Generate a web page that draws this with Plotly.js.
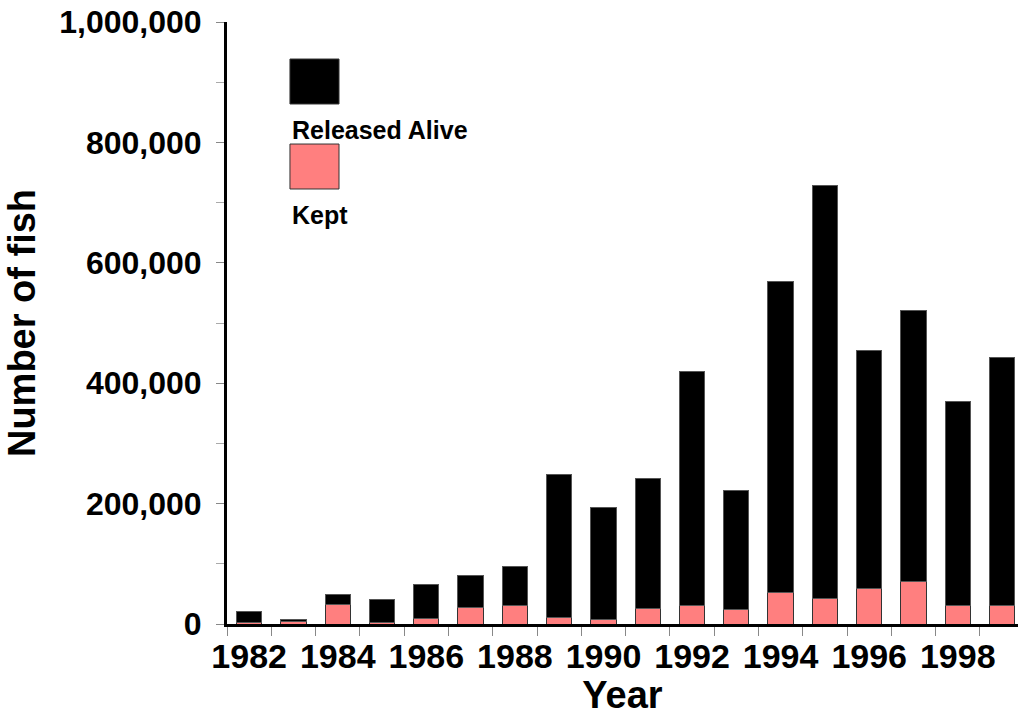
<!DOCTYPE html>
<html>
<head>
<meta charset="utf-8">
<script src="https://cdn.plot.ly/plotly-3.0.1.min.js"></script>
<style>
  html, body { margin: 0; padding: 0; background: #fff; }
  #chart { width: 1018px; height: 716px; }
</style>
</head>
<body>
<div id="chart"></div>
<script>
let years = [1982, 1983, 1984, 1985, 1986, 1987, 1988, 1989, 1990,
             1991, 1992, 1993, 1994, 1995, 1996, 1997, 1998, 1999];

let kept = [3300, 3500, 31600, 3300, 9500, 26600, 30400, 11600, 8300,
            25000, 30400, 24400, 52000, 43000, 59000, 70000, 30400, 31500];

let releasedAlive = [17000, 4500, 17700, 38200, 55800, 54800, 65900, 237000, 185500,
                     217000, 389300, 196600, 517200, 685000, 395600, 451000, 340000, 412000];

let labelYears = [1982, 1984, 1986, 1988, 1990, 1992, 1994, 1996, 1998];
let yTicks = [0, 200000, 400000, 600000, 800000, 1000000];

let boldFont = 'Liberation Sans, Arial, sans-serif';
let narrowFont = 'Liberation Sans Narrow, Liberation Sans, Arial, sans-serif';

let traces = [
  {
    x: years,
    y: kept,
    type: 'bar',
    name: 'Kept',
    width: 0.57,
    marker: { color: '#ff7f7f', line: { color: '#333333', width: 1 } }
  },
  {
    x: years,
    y: releasedAlive,
    type: 'bar',
    name: 'Released Alive',
    width: 0.57,
    marker: { color: '#000000', line: { color: '#555555', width: 1 } }
  }
];

// legend drawn by hand: swatch above its label, as in the original
function legendItem(color, y0, y1, label, ly) {
  return {
    shape: {
      type: 'rect', xref: 'paper', yref: 'paper',
      x0: 0.0796, x1: 0.1416, y0: y0, y1: y1,
      fillcolor: color, line: { color: '#333333', width: 1 }
    },
    note: {
      xref: 'paper', yref: 'paper', x: 0.0796, y: ly,
      xanchor: 'left', yanchor: 'middle', showarrow: false,
      text: label,
      font: { family: boldFont, size: 25, weight: 'bold', color: '#000' }
    }
  };
}

let lgA = legendItem('#000000', 0.8638, 0.9385, 'Released Alive', 0.8206);
let lgB = legendItem('#ff7f7f', 0.7226, 0.7973, 'Kept', 0.679);

let layout = {
  width: 1018,
  height: 716,
  barmode: 'stack',
  showlegend: false,
  paper_bgcolor: '#ffffff',
  plot_bgcolor: '#ffffff',
  margin: { l: 227, r: 0, t: 22, b: 92 },
  xaxis: {
    range: [1981.5, 1999.36],
    tickmode: 'array',
    tickvals: labelYears,
    ticktext: labelYears.map(String),
    ticks: '',
    showgrid: false,
    zeroline: false,
    showline: true,
    linecolor: '#000',
    linewidth: 3,
    tickfont: { family: narrowFont, size: 34, weight: 'bold', color: '#000' },
    minor: { tick0: 1981.5, dtick: 1, ticks: 'outside', ticklen: 9, tickcolor: '#888', tickwidth: 1, showgrid: false },
    title: { text: 'Year', standoff: 6, font: { family: narrowFont, size: 38, weight: 'bold', color: '#000' } }
  },
  yaxis: {
    range: [0, 1000000],
    tickmode: 'array',
    tickvals: yTicks,
    ticktext: yTicks.map(function(v) { return v.toLocaleString('en-US'); }),
    ticks: 'outside',
    ticklen: 8,
    tickcolor: '#888',
    tickwidth: 1,
    ticklabelstandoff: 8,
    showgrid: false,
    zeroline: false,
    showline: true,
    linecolor: '#000',
    linewidth: 3,
    tickfont: { family: boldFont, size: 32, weight: 'bold', color: '#000' },
    minor: { dtick: 100000, ticks: 'outside', ticklen: 8, tickcolor: '#aaa', tickwidth: 1, showgrid: false },
    title: { text: 'Number of fish', standoff: 12, font: { family: boldFont, size: 38, weight: 'bold', color: '#000' } }
  },
  shapes: [lgA.shape, lgB.shape],
  annotations: [lgA.note, lgB.note]
};

Plotly.newPlot('chart', traces, layout, { displayModeBar: false, staticPlot: true });
</script>
</body>
</html>
